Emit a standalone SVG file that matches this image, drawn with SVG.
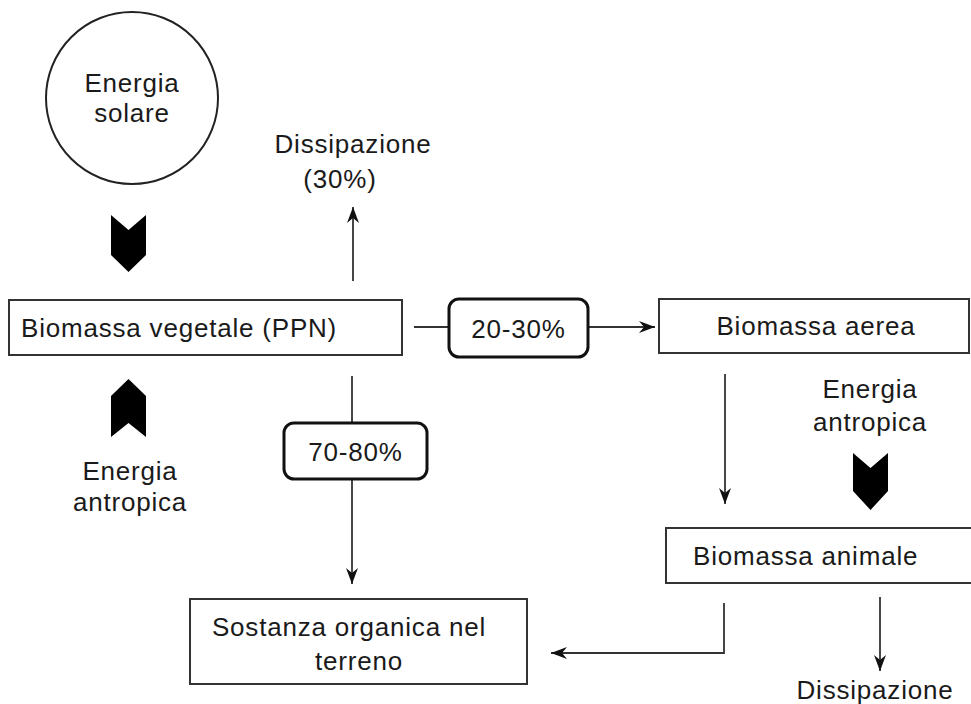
<svg xmlns="http://www.w3.org/2000/svg" width="971" height="704" viewBox="0 0 971 704">
<style>
text{font-family:"Liberation Sans",Arial,sans-serif;font-size:26px;fill:#1a1a1a;letter-spacing:0.8px}
.box{fill:#fff;stroke:#333;stroke-width:2}
.rbox{fill:#fff;stroke:#111;stroke-width:3}
.ln{fill:none;stroke:#333;stroke-width:1.8}
.chev{fill:#000}
</style>
<defs>
<marker id="ah" viewBox="0 0 16 12" refX="16" refY="6" markerWidth="16" markerHeight="12" markerUnits="userSpaceOnUse" orient="auto">
<path d="M0,0 L16,6 L0,12 L5,6 z" fill="#111"/>
</marker>
</defs>
<rect width="971" height="704" fill="#fff"/>

<g id="connectors">
<line class="ln" x1="353" y1="281" x2="353" y2="207" marker-end="url(#ah)"/>
<line class="ln" x1="414" y1="327" x2="449" y2="327"/>
<line class="ln" x1="588" y1="327" x2="655" y2="327" marker-end="url(#ah)"/>
<line class="ln" x1="352" y1="376" x2="352" y2="423"/>
<line class="ln" x1="352" y1="479" x2="352" y2="584" marker-end="url(#ah)"/>
<line class="ln" x1="725" y1="374" x2="725" y2="504" marker-end="url(#ah)"/>
<polyline class="ln" points="724,603 724,653 551,653" marker-end="url(#ah)"/>
<line class="ln" x1="880" y1="597" x2="880" y2="671" marker-end="url(#ah)"/>
</g>

<g id="sun">
<circle cx="132" cy="98" r="86" fill="#fff" stroke="#222" stroke-width="2"/>
<text x="132" y="92" text-anchor="middle">Energia</text>
<text x="132" y="122" text-anchor="middle">solare</text>
</g>

<g id="chevron-sun">
<polygon class="chev" points="111,215 128.5,230 146,215 146,255 128.5,272 111,255"/>
</g>

<g id="dissipazione-30">
<text x="353" y="153" text-anchor="middle">Dissipazione</text>
<text x="340" y="188" text-anchor="middle">(30%)</text>
</g>

<g id="biomassa-vegetale">
<rect class="box" x="9" y="300" width="393" height="55"/>
<text x="21" y="337">Biomassa vegetale (PPN)</text>
</g>

<g id="pct-20-30">
<rect class="rbox" x="449" y="299" width="139" height="58" rx="10"/>
<text x="518.5" y="338" text-anchor="middle">20-30%</text>
</g>

<g id="biomassa-aerea">
<rect class="box" x="659" y="299" width="310" height="54"/>
<text x="816" y="335" text-anchor="middle">Biomassa aerea</text>
</g>

<g id="energia-antropica-left">
<polygon class="chev" points="128.5,379 146,396 146,437 128.5,423 111,437 111,396"/>
<text x="130" y="480" text-anchor="middle">Energia</text>
<text x="130" y="511" text-anchor="middle">antropica</text>
</g>

<g id="pct-70-80">
<rect class="rbox" x="284" y="423" width="143" height="56" rx="10"/>
<text x="355.5" y="461" text-anchor="middle">70-80%</text>
</g>

<g id="energia-antropica-right">
<text x="870" y="398" text-anchor="middle">Energia</text>
<text x="870" y="431" text-anchor="middle">antropica</text>
<polygon class="chev" points="853,453 870.5,468 888,453 888,491 870.5,510 853,491"/>
</g>

<g id="biomassa-animale">
<rect class="box" x="666" y="528" width="320" height="55"/>
<text x="693" y="565">Biomassa animale</text>
</g>

<g id="sostanza-organica">
<rect class="box" x="190" y="599" width="337" height="85"/>
<text x="349" y="636" text-anchor="middle">Sostanza organica nel</text>
<text x="359" y="670" text-anchor="middle">terreno</text>
</g>

<g id="dissipazione">
<text x="875" y="699" text-anchor="middle">Dissipazione</text>
</g>
</svg>
